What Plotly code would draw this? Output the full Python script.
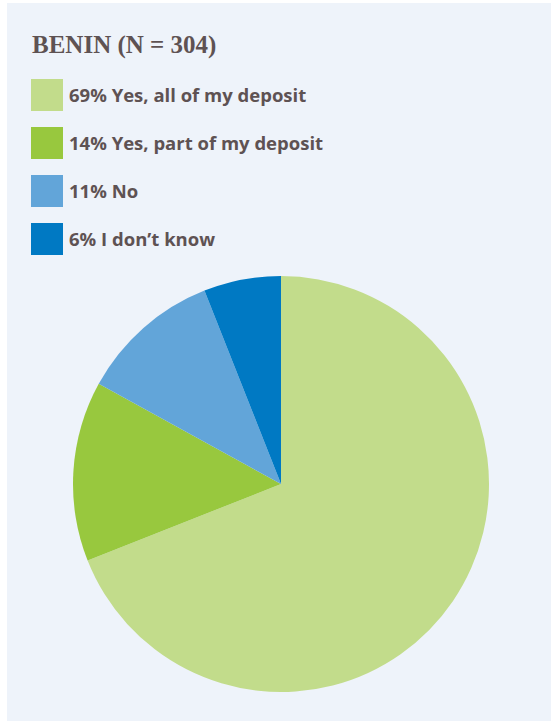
import plotly.graph_objects as go

# Survey responses (Benin, N = 304)
title_text = "BENIN (N = 304)"
labels = ["Yes, all of my deposit", "Yes, part of my deposit", "No", "I don\u2019t know"]
shares = [69, 14, 11, 6]
colors = ["#c2dc8b", "#98c83e", "#62a5d9", "#0079c3"]

W, H = 551, 723
text_color = "#5e5253"
panel_color = "#eef3fa"

fig = go.Figure()

fig.add_trace(go.Pie(
    labels=labels,
    values=shares,
    sort=False,
    direction="clockwise",
    rotation=0,
    marker=dict(colors=colors, line=dict(width=0)),
    textinfo="none",
    hoverinfo="label+percent",
    showlegend=False,
    domain=dict(x=[73 / W, 489 / W], y=[1 - 692 / H, 1 - 276 / H]),
))

shapes = [dict(
    type="rect", xref="paper", yref="paper", layer="below",
    x0=7 / W, x1=1, y0=1 - 721 / H, y1=1 - 3 / H,
    fillcolor=panel_color, line=dict(width=0),
)]
annotations = [dict(
    text="<b>" + title_text + "</b>", xref="paper", yref="paper",
    x=30 / W, y=1 - 45 / H, xanchor="left", yanchor="middle", showarrow=False,
    font=dict(family="Liberation Serif", size=25, color=text_color),
)]

# Custom legend: large swatches with the share and label beside each
for i, (lab, val, col) in enumerate(zip(labels, shares, colors)):
    top = 79 + 48 * i
    shapes.append(dict(
        type="rect", xref="paper", yref="paper",
        x0=31 / W, x1=63 / W, y0=1 - (top + 32) / H, y1=1 - top / H,
        fillcolor=col, line=dict(width=0),
    ))
    annotations.append(dict(
        text=f"<b>{val}% {lab}</b>", xref="paper", yref="paper",
        x=67 / W, y=1 - (top + 16) / H, xanchor="left", yanchor="middle",
        showarrow=False,
        font=dict(family="Open Sans", size=18.5, color=text_color),
    ))

fig.update_layout(
    width=W, height=H,
    margin=dict(l=0, r=0, t=0, b=0),
    paper_bgcolor="white",
    plot_bgcolor="white",
    shapes=shapes,
    annotations=annotations,
)

fig.write_html("out.html")
